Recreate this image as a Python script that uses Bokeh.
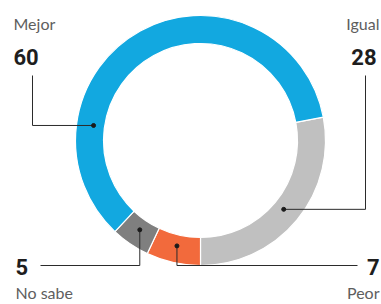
import math
from bokeh.plotting import figure
from bokeh.models import Range1d, ColumnDataSource
from bokeh.core.properties import value
from bokeh.embed import file_html
from bokeh.resources import INLINE

# ---- data ----
categories = ["Igual", "Peor", "No sabe", "Mejor"]
values = [28, 7, 5, 60]
colors = ["#c0c0c0", "#f26a3c", "#7f7f7f", "#12a8e0"]

# ---- layout (screen px of a 381x304 picture, y measured from top) ----
W, H = 381, 304
cx, cy = 200, 140
r_in, r_out = 97, 125

def Y(sy):
    return H - sy

p = figure(width=W, height=H, output_backend="svg", toolbar_location=None,
           x_range=Range1d(0, W), y_range=Range1d(0, H), min_border=0,
           background_fill_color="white", border_fill_color="white")
p.axis.visible = False
p.grid.visible = False
p.outline_line_color = None

total = sum(values)
starts, ends, mids = [], [], []
a = -90 + values[0] * 360 / total  # top of Igual segment (deg)
for v in values:
    a_end = a - v * 360 / total
    starts.append(math.radians(a_end))
    ends.append(math.radians(a))
    mids.append((a + a_end) / 2)
    a = a_end

src = ColumnDataSource(dict(start=starts, end=ends, color=colors, cat=categories))
p.annular_wedge(x=cx, y=Y(cy), inner_radius=r_in, outer_radius=r_out,
                start_angle="start", end_angle="end", fill_color="color",
                line_color="white", line_width=1.2, source=src)

# leader dots on ring centre-line
r_mid = (r_in + r_out) / 2 - 3
dot_angle = {"Igual": mids[0], "Peor": mids[1], "No sabe": mids[2], "Mejor": 172}
def dot(cat):
    ang = math.radians(dot_angle[cat])
    return cx + r_mid * math.cos(ang), cy - r_mid * math.sin(ang)

lc = "#2b2b2b"
dx, dy = dot("Mejor")
p.line([32, 32, dx], [Y(75), Y(dy), Y(dy)], line_color=lc, line_width=1)
dx, dy = dot("Igual")
p.line([365, 365, dx], [Y(75), Y(dy), Y(dy)], line_color=lc, line_width=1)
dx, dy = dot("No sabe")
p.line([40, dx, dx], [Y(265), Y(265), Y(dy)], line_color=lc, line_width=1)
dx, dy = dot("Peor")
p.line([dx, dx, 357], [Y(dy), Y(265), Y(265)], line_color=lc, line_width=1)

dxs, dys = zip(*[dot(c) for c in categories])
p.scatter(list(dxs), [Y(v) for v in dys], size=4, color="#1a1a1a")

lab_font = value("Lato")
num_font = value("Roboto")
p.text(x=[13, 379], y=[Y(22.5), Y(22.5)], text=["Mejor", "Igual"], text_font=lab_font,
       text_font_size="16px", text_color="#5e5e5e", text_align=["left", "right"],
       text_baseline="middle")
p.text(x=[15, 379], y=[Y(291.5), Y(291.5)], text=["No sabe", "Peor"], text_font=lab_font,
       text_font_size="16px", text_color="#5e5e5e", text_align=["left", "right"],
       text_baseline="middle")
p.text(x=[13, 376], y=[Y(56), Y(56)], text=[str(values[3]), str(values[0])],
       text_font=num_font, text_font_style="bold", text_font_size="22px",
       text_color="#1e1e1e", text_align=["left", "right"], text_baseline="middle")
p.text(x=[15, 379], y=[Y(266), Y(266)], text=[str(values[2]), str(values[1])],
       text_font=num_font, text_font_style="bold", text_font_size="22px",
       text_color="#1e1e1e", text_align=["left", "right"], text_baseline="middle")

open("out.html", "w").write(file_html(p, INLINE))
